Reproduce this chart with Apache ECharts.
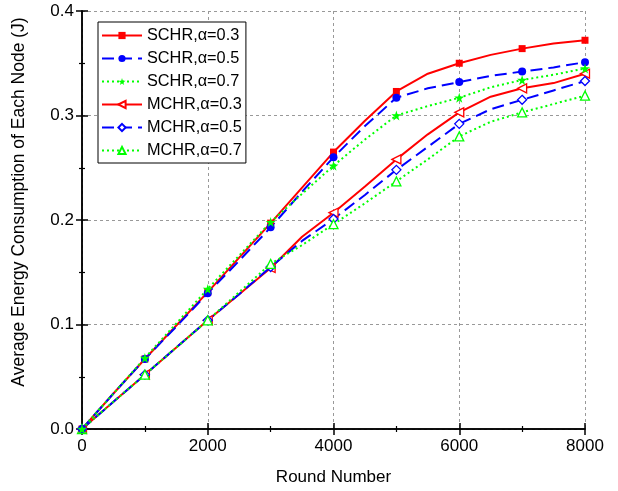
<!DOCTYPE html>
<html><head><meta charset="utf-8">
<script src="https://cdn.jsdelivr.net/npm/echarts@6/dist/echarts.min.js"></script>
<style>html,body{margin:0;padding:0;background:#fff}#c{width:618px;height:491px}</style>
</head><body><div id="c"></div>
<script>
var rounds = [0,500,1000,1500,2000,2500,3000,3500,4000,4500,5000,5500,6000,6500,7000,7500,8000];
var schr03 = [0,0.034,0.067,0.099,0.131,0.164,0.197,0.231,0.265,0.295,0.323,0.340,0.350,0.358,0.364,0.369,0.372];
var schr05 = [0,0.034,0.067,0.098,0.130,0.161,0.193,0.227,0.260,0.290,0.317,0.326,0.332,0.338,0.342,0.346,0.351];
var schr07 = [0,0.034,0.068,0.101,0.134,0.166,0.198,0.225,0.252,0.277,0.300,0.309,0.317,0.327,0.334,0.339,0.345];
var mchr03 = [0,0.026,0.052,0.078,0.104,0.129,0.154,0.184,0.207,0.232,0.258,0.282,0.303,0.318,0.326,0.331,0.340];
var mchr05 = [0,0.026,0.052,0.078,0.104,0.129,0.155,0.180,0.201,0.224,0.248,0.270,0.292,0.306,0.315,0.324,0.333];
var mchr07 = [0,0.026,0.052,0.078,0.104,0.131,0.158,0.176,0.196,0.216,0.237,0.258,0.280,0.294,0.303,0.311,0.319];
var names = ['SCHR,\u03b1=0.3','SCHR,\u03b1=0.5','SCHR,\u03b1=0.7','MCHR,\u03b1=0.3','MCHR,\u03b1=0.5','MCHR,\u03b1=0.7'];
var xTicks = [0,2000,4000,6000,8000];
var yTicks = [0.0,0.1,0.2,0.3,0.4];

var RED='#ff0000', BLUE='#0000ff', GREEN='#00ff00';
var STAR='path://M50,0 L61,35 L98,35 L68,57 L79,91 L50,70 L21,91 L32,57 L2,35 L39,35 Z';
function pairs(arr){return rounds.map(function(r,i){return [r,arr[i]];});}
function mk(name, arr, color, dash, symbol, size, hollow, rot){
  return {
    name:name, type:'line', data:pairs(arr), xAxisIndex:0, yAxisIndex:0,
    symbol:symbol, symbolRotate:rot||0,
    symbolSize:function(v){return v[0]%1000===0?size:0;},
    showAllSymbol:true, animation:false,
    lineStyle:{color:color,width:2,type:dash},
    itemStyle: hollow?{color:'#fff',borderColor:color,borderWidth:1.3}:{color:color,borderColor:color,borderWidth:0},
    z: hollow?3:4
  };
}
var chart = echarts.init(document.getElementById('c'));
var axisFont = {fontFamily:'Liberation Sans, Arial', fontSize:17, color:'#000'};
chart.setOption({
  animation:false,
  textStyle:{fontFamily:'Liberation Sans, Arial'},
  grid:{left:82,right:33,top:11,bottom:60},
  legend:{
    orient:'vertical', left:98, top:22, itemWidth:40, itemHeight:9, itemGap:6,
    padding:[5,4,4,3], borderColor:'#000', borderWidth:1, backgroundColor:'#fff',
    textStyle:{fontFamily:'Liberation Sans, Arial', fontSize:16.3, color:'#000', lineHeight:17},
    data:names
  },
  xAxis:[{
    type:'value', min:0, max:8000, interval:2000, position:'bottom',
    name:'Round Number', nameLocation:'middle', nameGap:40, nameTextStyle:axisFont,
    axisLine:{lineStyle:{color:'#000',width:1.5}},
    axisTick:{inside:true,length:6,lineStyle:{color:'#000',width:1.5}},
    minorTick:{show:true,splitNumber:2,length:3,lineStyle:{color:'#000',width:1.2}},
    axisLabel:Object.assign({margin:9,formatter:function(v){return String(v);}},axisFont),
    splitLine:{show:true,lineStyle:{color:'#999',type:[3,3],width:1}}
  },{
    type:'value', min:0, max:8000, interval:2000, position:'top',
    axisLine:{lineStyle:{color:'#000',width:1.5}},
    axisTick:{inside:true,length:6,lineStyle:{color:'#000',width:1.5}},
    minorTick:{show:true,splitNumber:2,length:3,lineStyle:{color:'#000',width:1.2}},
    axisLabel:{show:false}, splitLine:{show:false}
  }],
  yAxis:[{
    type:'value', min:0, max:0.4, interval:0.1, position:'left',
    name:'Average Energy Consumption of Each Node (J)', nameLocation:'middle', nameGap:54,
    nameTextStyle:Object.assign({},axisFont,{fontSize:17.5,padding:[0,0,0,36]}),
    axisLine:{lineStyle:{color:'#000',width:1.5}},
    axisTick:{inside:true,length:6,lineStyle:{color:'#000',width:1.5}},
    minorTick:{show:true,splitNumber:2,length:3,lineStyle:{color:'#000',width:1.2}},
    axisLabel:Object.assign({margin:8,formatter:function(v){return v.toFixed(1);}},axisFont),
    splitLine:{show:true,lineStyle:{color:'#999',type:[3,3],width:1}}
  },{
    type:'value', min:0, max:0.4, interval:0.1, position:'right',
    axisLine:{lineStyle:{color:'#000',width:1.5}},
    axisTick:{inside:true,length:6,lineStyle:{color:'#000',width:1.5}},
    minorTick:{show:true,splitNumber:2,length:3,lineStyle:{color:'#000',width:1.2}},
    axisLabel:{show:false}, splitLine:{show:false}
  }],
  series:[
    mk(names[0], schr03, RED, 'solid', 'rect', 7, false),
    mk(names[1], schr05, BLUE, [12,6], 'circle', 8, false),
    mk(names[2], schr07, GREEN, [2,3], STAR, 10, false),
    mk(names[3], mchr03, RED, 'solid', 'triangle', 9, true, 90),
    mk(names[4], mchr05, BLUE, [12,6], 'diamond', 9, true),
    mk(names[5], mchr07, GREEN, [2,3], 'triangle', 9, true)
  ]
});
</script></body></html>
